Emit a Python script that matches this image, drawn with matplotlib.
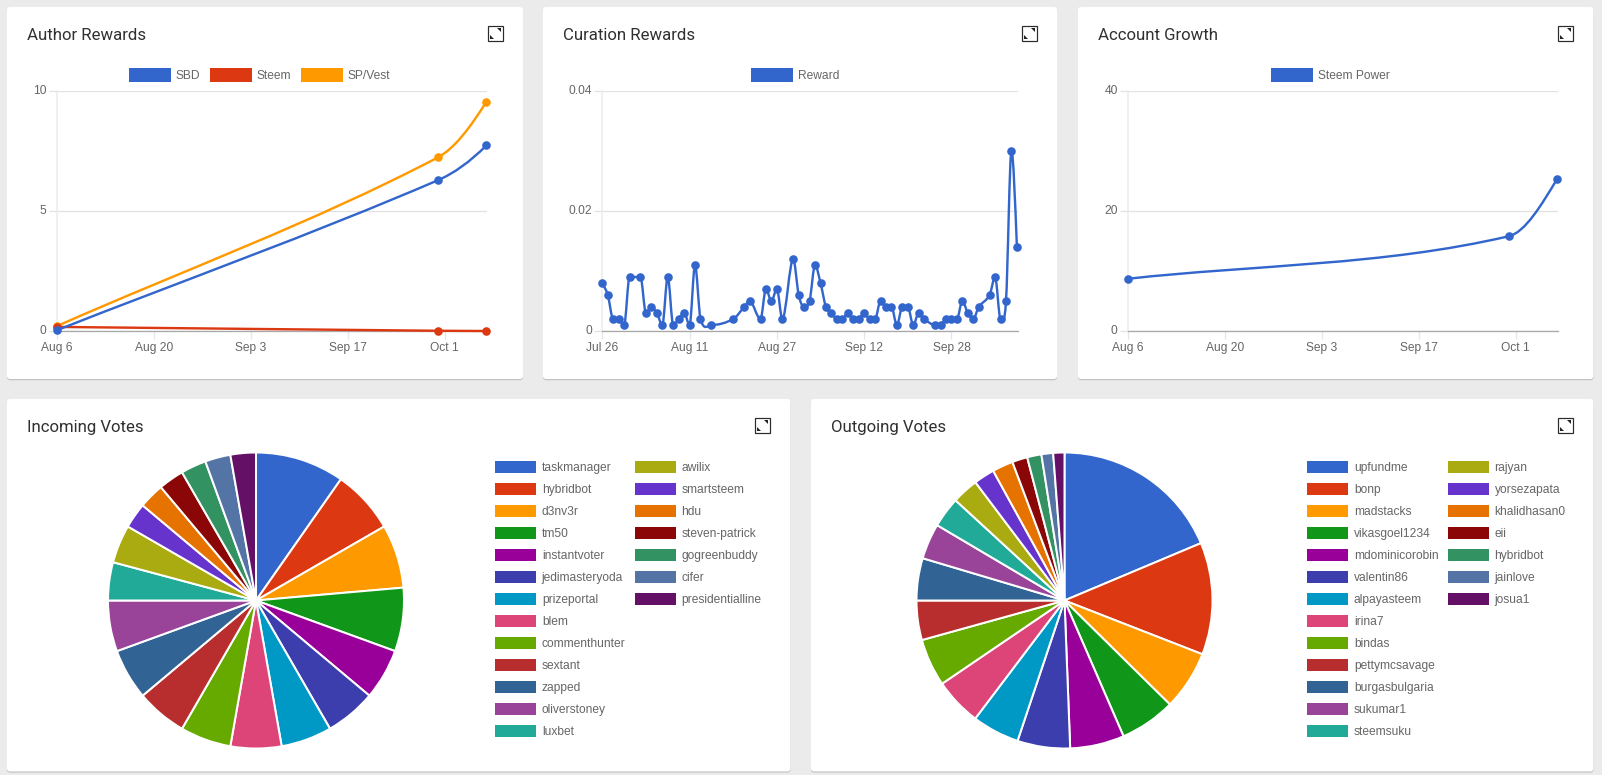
import numpy as np
import pandas as pd
import matplotlib
matplotlib.use("Agg")
import matplotlib.pyplot as plt
import matplotlib.dates as mdates
from matplotlib.patches import FancyBboxPatch, Rectangle, Polygon, PathPatch
from matplotlib.path import Path
from matplotlib.transforms import ScaledTranslation

W, H = 1602, 775
PALETTE = ["#3366cc", "#dc3912", "#ff9900", "#109618", "#990099", "#3b3eac", "#0099c6",
           "#dd4477", "#66aa00", "#b82e2e", "#316395", "#994499", "#22aa99", "#aaaa11",
           "#6633cc", "#e67300", "#8b0707", "#329262", "#5574a6", "#651067"]

# Author rewards
author_dates = ["2018-08-06", "2018-09-30", "2018-10-07"]
author_sbd = [0.03, 6.28, 7.73]
author_steem = [0.17, 0.01, 0.0]
author_sp = [0.2, 7.23, 9.55]

# Curation rewards
curation_start = "2018-07-26"
curation_days = [0, 1, 2, 3, 4, 5, 7, 8, 9, 10, 11, 12, 13, 14, 15, 16, 17, 18, 20, 24, 26, 27,
                 29, 30, 31, 32, 33, 35, 36, 37, 38, 39, 40, 41, 42, 43, 44, 45, 46, 47, 48, 49,
                 50, 51, 52, 53, 54, 55, 56, 57, 58, 59, 61, 62, 63, 64, 65, 66, 67, 68, 69, 71,
                 72, 73, 74, 75, 76]
curation_reward = [0.008, 0.006, 0.002, 0.002, 0.001, 0.009, 0.009, 0.003, 0.004, 0.003, 0.001,
                   0.009, 0.001, 0.002, 0.003, 0.001, 0.011, 0.002, 0.001, 0.002, 0.004, 0.005,
                   0.002, 0.007, 0.005, 0.007, 0.002, 0.012, 0.006, 0.004, 0.005, 0.011, 0.008,
                   0.004, 0.003, 0.002, 0.002, 0.003, 0.002, 0.002, 0.003, 0.002, 0.002, 0.005,
                   0.004, 0.004, 0.001, 0.004, 0.004, 0.001, 0.003, 0.002, 0.001, 0.001, 0.002,
                   0.002, 0.002, 0.005, 0.003, 0.002, 0.004, 0.006, 0.009, 0.002, 0.005, 0.03,
                   0.014]

# Account growth
growth_dates = ["2018-08-06", "2018-09-30", "2018-10-07"]
growth_sp = [8.7, 15.8, 25.4]

# Pies
incoming_names = ["taskmanager", "hybridbot", "d3nv3r", "tm50", "instantvoter", "jedimasteryoda",
                  "prizeportal", "blem", "commenthunter", "sextant", "zapped", "oliverstoney",
                  "luxbet", "awilix", "smartsteem", "hdu", "steven-patrick", "gogreenbuddy",
                  "cifer", "presidentialline"]
incoming_votes = [7, 5, 5, 5, 4, 4, 4, 4, 4, 4, 4, 4, 3, 3, 2, 2, 2, 2, 2, 2]

outgoing_names = ["upfundme", "bonp", "madstacks", "vikasgoel1234", "mdominicorobin", "valentin86",
                  "alpayasteem", "irina7", "bindas", "pettymcsavage", "burgasbulgaria", "sukumar1",
                  "steemsuku", "rajyan", "yorsezapata", "khalidhasan0", "eii", "hybridbot",
                  "jainlove", "josua1"]
outgoing_votes = [67.2, 44.1, 23.3, 21.9, 21.3, 20.7, 18.6, 18.7, 18.7, 15.5, 16.6, 14.0, 12.0,
                  10.4, 8.2, 8.2, 6.0, 5.6, 4.6, 4.4]

plt.rcParams["font.family"] = ["Liberation Sans", "DejaVu Sans"]
PT = 0.72  # one pixel in points at dpi 100

fig = plt.figure(figsize=(W / 100, H / 100), dpi=100, facecolor="#ebebeb")
bg = fig.add_axes([0, 0, 1, 1], zorder=0)
bg.set_xlim(0, W)
bg.set_ylim(H, 0)
bg.axis("off")


def card(x0, y0, x1, y1, title):
    for off, col in [(1.5, "#d9d9d9"), (0.8, "#bdbdbd")]:
        bg.add_patch(FancyBboxPatch((x0 + 1.5, y0 + 1.5 + off), x1 - x0 - 3, y1 - y0 - 3,
                                    boxstyle="round,pad=1.5,rounding_size=3", fc=col, ec="none"))
    bg.add_patch(FancyBboxPatch((x0 + 1.5, y0 + 1.5), x1 - x0 - 3, y1 - y0 - 3,
                                boxstyle="round,pad=1.5,rounding_size=3", fc="white", ec="none"))
    bg.text(x0 + 20, y0 + 28.7, title, family="Roboto", fontsize=16.8 * PT, color="#303030",
            ha="left", va="center")
    # expand icon in the corner
    ix, iy = x1 - 35.5, y0 + 18.5
    bg.add_patch(Rectangle((ix, iy), 15, 15, fc="white", ec="#2b2b2b", lw=1.2 * PT))
    bg.add_patch(Polygon([(ix + 9, iy + 2), (ix + 13, iy + 2), (ix + 13, iy + 6)], fc="#222222", ec="none"))
    bg.add_patch(Polygon([(ix + 2, iy + 9), (ix + 2, iy + 13), (ix + 6, iy + 13)], fc="#222222", ec="none"))


def legend_entry(x, y, w, h, gap, color, label):
    bg.add_patch(Rectangle((x, y - h / 2), w, h, fc=color, ec="none"))
    bg.text(x + w + gap, y + 0.7, label, fontsize=12 * PT, color="#666666", ha="left", va="center")


def smooth_line(ax, x, y, color, zorder):
    # same kind of curve as the original chart: slope at a point comes from its neighbours,
    # flat where the series turns
    x = np.asarray(x, dtype=float)
    y = np.asarray(y, dtype=float)
    slopes = np.zeros(len(x))
    for i in range(1, len(x) - 1):
        if (y[i] - y[i - 1]) * (y[i + 1] - y[i]) > 0:
            slopes[i] = (y[i + 1] - y[i - 1]) / (x[i + 1] - x[i - 1])
    slopes[0] = (y[1] - y[0]) / (x[1] - x[0])
    slopes[-1] = 1.4 * (y[-1] - y[-2]) / (x[-1] - x[-2])
    verts = [(x[0], y[0])]
    codes = [Path.MOVETO]
    for i in range(len(x) - 1):
        dx = (x[i + 1] - x[i]) / 3
        verts += [(x[i] + dx, y[i] + slopes[i] * dx),
                  (x[i + 1] - dx, y[i + 1] - slopes[i + 1] * dx),
                  (x[i + 1], y[i + 1])]
        codes += [Path.CURVE4] * 3
    ax.add_patch(PathPatch(Path(verts, codes), fc="none", ec=color, lw=2.4 * PT, zorder=zorder,
                           clip_on=False))
    ax.plot(x, y, ls="none", marker="o", ms=8.6 * PT, mfc=color, mec=color, mew=0, zorder=zorder,
            clip_on=False)


def line_axes(x0, x1, y0, y1, start, end, yticks, ylabels, tick_dates, tick_labels):
    ax = fig.add_axes([x0 / W, 1 - y1 / H, (x1 - x0) / W, (y1 - y0) / H], zorder=2)
    ax.patch.set_alpha(0)
    ax.set_xlim(start, end)
    ax.set_ylim(yticks[0], yticks[-1])
    ax.set_yticks(yticks)
    ax.set_yticklabels(ylabels)
    ax.set_xticks(mdates.date2num(pd.to_datetime(tick_dates)))
    ax.set_xticklabels(tick_labels)
    ax.grid(axis="y", color="#e2e2e2", lw=1.3 * PT)
    ax.set_axisbelow(True)
    for s in ["top", "right"]:
        ax.spines[s].set_visible(False)
    ax.spines["left"].set_color("#ececec")
    ax.spines["left"].set_linewidth(1.5 * PT)
    ax.spines["bottom"].set_color("#a8a8a8")
    ax.spines["bottom"].set_linewidth(1.3 * PT)
    ax.tick_params(axis="y", length=8 * PT, width=1.3 * PT, color="#e2e2e2", pad=2 * PT,
                   labelsize=12 * PT, labelcolor="#666666")
    ax.tick_params(axis="x", length=8 * PT, width=1.3 * PT, color="#e6e6e6", pad=3 * PT,
                   labelsize=12 * PT, labelcolor="#666666")
    nudge = ScaledTranslation(0, 1 / 100, fig.dpi_scale_trans)
    for lab in ax.get_yticklabels():
        lab.set_transform(lab.get_transform() + nudge)
    return ax


def pie_axes(cx, cy, r, values):
    ax = fig.add_axes([(cx - r) / W, 1 - (cy + r) / H, 2 * r / W, 2 * r / H], zorder=2)
    ax.pie(values, colors=PALETTE, startangle=90, counterclock=False, radius=1,
           wedgeprops={"edgecolor": "white", "linewidth": 2 * PT, "clip_on": False})
    ax.set_xlim(-1, 1)
    ax.set_ylim(-1, 1)


def pie_legend(names, x_col1, x_col2):
    for i, name in enumerate(names):
        x = x_col1 if i < 13 else x_col2
        row = i if i < 13 else i - 13
        legend_entry(x, 467 + row * 22, 40.5, 12, 6, PALETTE[i], name)


card(7, 7, 523, 379, "Author Rewards")
card(543, 7, 1057, 379, "Curation Rewards")
card(1078, 7, 1593.5, 379, "Account Growth")
card(7, 399, 790.5, 771.5, "Incoming Votes")
card(811, 399, 1593.5, 771.5, "Outgoing Votes")

# Author rewards
date_ticks = ["2018-08-06", "2018-08-20", "2018-09-03", "2018-09-17", "2018-10-01"]
date_labels = ["Aug 6", "Aug 20", "Sep 3", "Sep 17", "Oct 1"]
start = mdates.date2num(pd.Timestamp("2018-08-06"))
ax1 = line_axes(56.7, 487, 91, 331, start, start + 62.1, [0, 5, 10], ["0", "5", "10"], date_ticks, date_labels)
x_author = mdates.date2num(pd.to_datetime(author_dates))
smooth_line(ax1, x_author, author_sp, PALETTE[2], 3)
smooth_line(ax1, x_author, author_steem, PALETTE[1], 4)
smooth_line(ax1, x_author, author_sbd, PALETTE[0], 5)
for x, col, name in [(129, PALETTE[0], "SBD"), (209.5, PALETTE[1], "Steem"), (300.5, PALETTE[2], "SP/Vest")]:
    legend_entry(x, 75, 42, 14, 5, col, name)

# Curation rewards
start2 = mdates.date2num(pd.Timestamp(curation_start))
ax2 = line_axes(602.3, 1018, 91, 331, start2, start2 + 76.2, [0, 0.02, 0.04], ["0", "0.02", "0.04"],
                ["2018-07-26", "2018-08-11", "2018-08-27", "2018-09-12", "2018-09-28"],
                ["Jul 26", "Aug 11", "Aug 27", "Sep 12", "Sep 28"])
smooth_line(ax2, start2 + np.array(curation_days), curation_reward, PALETTE[0], 3)
legend_entry(751.3, 75, 42, 14, 5, PALETTE[0], "Reward")

# Account growth
ax3 = line_axes(1127.7, 1557.7, 91, 331, start, start + 62.05, [0, 20, 40], ["0", "20", "40"], date_ticks, date_labels)
smooth_line(ax3, mdates.date2num(pd.to_datetime(growth_dates)), growth_sp, PALETTE[0], 3)
legend_entry(1271, 75, 42, 14, 5, PALETTE[0], "Steem Power")

# Votes
pie_axes(256, 600.5, 148, incoming_votes)
pie_legend(incoming_names, 495.3, 635)
pie_axes(1064.5, 600.5, 148, outgoing_votes)
pie_legend(outgoing_names, 1307.3, 1448)

fig.savefig("out.png", dpi=100, facecolor=fig.get_facecolor())
